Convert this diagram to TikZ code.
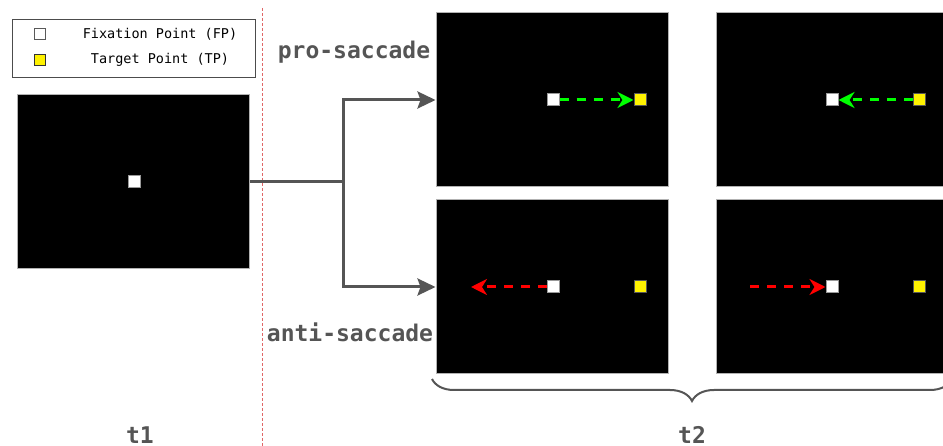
\documentclass[tikz,border=0pt]{standalone}
\usepackage{fontspec}
\setmonofont{DejaVu Sans Mono}
\usetikzlibrary{arrows.meta, decorations.pathreplacing}

\definecolor{labelgray}{HTML}{555555}
\definecolor{sepred}{HTML}{E06666}

\begin{document}
\begin{tikzpicture}[x=1pt, y=-1pt,
	screen/.style={draw=gray!60, line width=1pt, fill=black, minimum width=232pt, minimum height=174pt, inner sep=0pt},
	fp/.style={draw=gray!80, line width=1pt, fill=white, minimum size=12pt, inner sep=0pt},
	tp/.style={draw=gray!70!black, line width=1pt, fill=yellow, minimum size=12pt, inner sep=0pt},
	phase/.style={font=\ttfamily\bfseries\fontsize{23}{26}\selectfont, text=labelgray, inner sep=0pt},
	legendtext/.style={font=\ttfamily\fontsize{13.5}{16}\selectfont, inner sep=0pt},
	flow/.style={-{Stealth[length=18pt, width=17pt, inset=3pt]}, line width=3pt, draw=labelgray},
	saccade/.style={dash pattern=on 9pt off 8pt, line width=3pt, -{Stealth[length=16pt, width=16pt, inset=5pt, sep=0pt]}}]

	\useasboundingbox (0,0) rectangle (943,446);

	% Legend
	\node[draw=black!70, line width=1pt, minimum width=243pt, minimum height=58pt, inner sep=0pt] (legend) at (133.5,49) {};
	\node[fp, minimum size=11pt, draw=gray!70!black] (lfp) at (40,34) {};
	\node[tp, minimum size=11pt, draw=black!80] (ltp) at (40,60) {};
	\node[legendtext] (lfptext) at (160,34) {Fixation Point (FP)};
	\node[legendtext] (ltptext) at (160,60) {Target Point (TP)};

	% Separator t1 / t2
	\draw[sepred, line width=1pt, dash pattern=on 3pt off 2pt] (262,8) -- (262,446);

	% Screen t1
	\node[screen] (scr1) at (133.5,182) {};
	\node[fp] (fp1) at (134,182) {};

	% Screens t2
	\node[screen] (proA) at (552,100) {};
	\node[screen] (proB) at (832,100) {};
	\node[screen] (antiA) at (552,287) {};
	\node[screen] (antiB) at (832,287) {};

	% Points t2
	\node[fp] (fp2) at (553,100) {};
	\node[tp] (tp2) at (640,100) {};
	\node[fp] (fp3) at (832,100) {};
	\node[tp] (tp3) at (919,100) {};
	\node[fp] (fp4) at (553,287) {};
	\node[tp] (tp4) at (640,287) {};
	\node[fp] (fp5) at (832,287) {};
	\node[tp] (tp5) at (919,287) {};

	% Fork arrows
	\coordinate (fork) at (343,182);
	\draw[line width=3pt, labelgray] (scr1.east) -- (fork);
	\draw[flow] (fork) |- (proA.west);
	\draw[flow] (fork) |- (antiA.west);

	% Saccade arrows
	\coordinate (antiend) at (471,287);
	\coordinate (antistart) at (750,287);
	\draw[saccade, green] (fp2.east) -- (tp2.west);
	\draw[saccade, green] (tp3.west) -- (fp3.east);
	\draw[saccade, red] (fp4.west) -- (antiend);
	\draw[saccade, red] (antistart) -- (fp5.west);

	% Labels
	\node[phase] (pro) at (354,52) {pro-saccade};
	\node[phase] (anti) at (350,332) {anti-saccade};
	\node[phase] (t1) at (140,435) {t1};
	\node[phase] (t2) at (692,435) {t2};

	% Brace t2
	\coordinate (brl) at (432,379);
	\coordinate (brr) at (952,379);
	\draw[labelgray, line width=2pt, decorate, decoration={brace, mirror, amplitude=22pt, aspect=0.5}] (brl) -- (brr);
\end{tikzpicture}
\end{document}
